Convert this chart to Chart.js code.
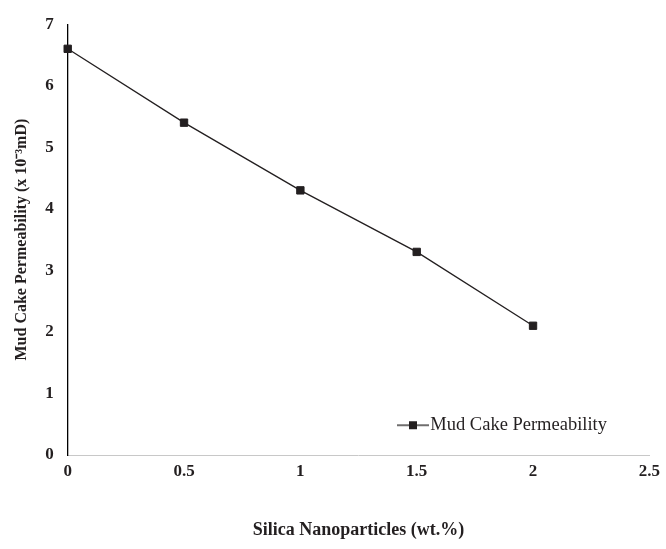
<!DOCTYPE html>
<html>
<head>
<meta charset="utf-8">
<script src="https://cdn.jsdelivr.net/npm/chart.js@4/dist/chart.umd.min.js"></script>
<style>
html,body{margin:0;padding:0;background:#fff;}
#wrap{width:666px;height:549px;}
</style>
</head>
<body>
<div id="wrap"><canvas id="c" width="666" height="549"></canvas></div>
<script>
const silicaWt = [0, 0.5, 1, 1.5, 2];
const permeability = [6.6, 5.4, 4.3, 3.3, 2.1];
const xTicks = [0, 0.5, 1, 1.5, 2, 2.5];
const yTicks = [0, 1, 2, 3, 4, 5, 6, 7];
const seriesName = 'Mud Cake Permeability';
const xTitle = 'Silica Nanoparticles (wt.%)';
const yTitle = 'Mud Cake Permeability (x 10\u207B\u00B3mD)';

const INK = '#231f20';
const serif = "'Liberation Serif', 'Times New Roman', serif";

// legend symbol: line with square marker
const sym = document.createElement('canvas');
sym.width = 32; sym.height = 10;
(function(){
  const g = sym.getContext('2d');
  g.strokeStyle = INK; g.lineWidth = 1.3;
  g.beginPath(); g.moveTo(0,5); g.lineTo(32,5); g.stroke();
  g.fillStyle = INK; g.fillRect(12,1,8,8);
})();

const moveLegend = {
  id: 'moveLegend',
  afterLayout(chart) {
    const lg = chart.legend;
    const w = 262, h = lg.height;
    lg.left = 395; lg.right = lg.left + w; lg.width = w;
    lg.top = 406; lg.bottom = lg.top + h;
  }
};

new Chart(document.getElementById('c'), {
  type: 'line',
  data: {
    datasets: [{
      label: seriesName,
      data: silicaWt.map((x, i) => ({x: x, y: permeability[i]})),
      borderColor: INK,
      backgroundColor: INK,
      borderWidth: 1.3,
      pointStyle: 'rect',
      pointRadius: 5.2,
      pointBorderWidth: 1,
      pointBackgroundColor: INK,
      pointBorderColor: INK,
      tension: 0,
      clip: false
    }]
  },
  options: {
    responsive: false,
    animation: false,
    layout: {padding: {top: 0, right: 0, bottom: 8, left: 12}},
    plugins: {
      legend: {
        position: 'chartArea',
        align: 'start',
        labels: {
          usePointStyle: true,
          pointStyle: sym,
          pointStyleWidth: 16,
          boxHeight: 10,
          padding: 10,
          color: INK,
          font: {family: serif, size: 18.5}
        }
      },
      tooltip: {enabled: false}
    },
    scales: {
      x: {
        type: 'linear',
        min: 0, max: 2.5,
        afterBuildTicks: (s) => { s.ticks = xTicks.map(v => ({value: v})); },
        grid: {display: false, drawTicks: false},
        border: {display: true, color: '#c8c8c8', width: 1},
        ticks: {
          color: INK, padding: 6, maxRotation: 0,
          font: {family: serif, size: 17, weight: 'bold'},
          callback: (v) => String(v)
        },
        title: {
          display: true, text: xTitle, color: INK,
          font: {family: serif, size: 18, weight: 'bold'},
          padding: {top: 32, bottom: 0}
        }
      },
      y: {
        type: 'linear',
        min: 0, max: 7,
        afterBuildTicks: (s) => { s.ticks = yTicks.map(v => ({value: v})); },
        grid: {display: false, drawTicks: false},
        border: {display: true, color: '#000', width: 1.3},
        ticks: {
          color: INK, padding: 14,
          font: {family: serif, size: 17, weight: 'bold'}
        },
        title: {
          display: true, text: yTitle, color: INK,
          font: {family: serif, size: 16, weight: 'bold'},
          padding: {top: 0, bottom: 0}
        }
      }
    }
  },
  plugins: [moveLegend]
});
</script>
</body>
</html>
